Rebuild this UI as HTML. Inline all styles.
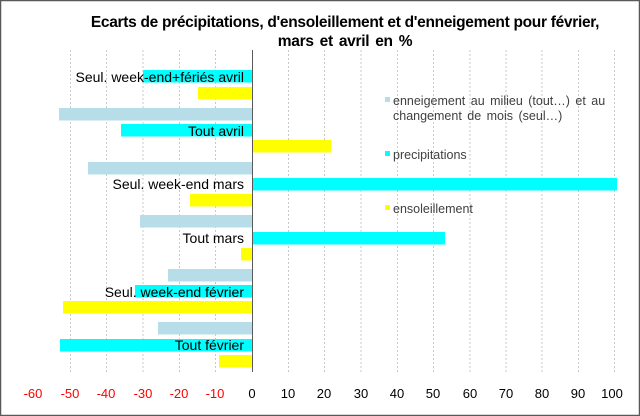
<!DOCTYPE html>
<html><head><meta charset="utf-8"><style>
body{margin:0;background:#fff}
svg{display:block;font-family:"Liberation Sans",sans-serif}
</style></head><body>
<svg width="640" height="416" xmlns="http://www.w3.org/2000/svg">
<rect x="0.5" y="0.5" width="639" height="415" fill="#fff" stroke="#595959" stroke-width="1.5"/>
<text x="345" y="27" text-anchor="middle" font-size="15.5" font-weight="bold" fill="#000" letter-spacing="-0.3">Ecarts de précipitations, d'ensoleillement et d'enneigement pour février,</text>
<text x="345" y="46" text-anchor="middle" font-size="15.5" font-weight="bold" fill="#000" letter-spacing="-0.3" word-spacing="2">mars et avril  en  %</text>
<g stroke="#c8c8c8" stroke-dasharray="2,2" stroke-width="1">
<line x1="70.5" y1="50" x2="70.5" y2="372"/><line x1="106.5" y1="50" x2="106.5" y2="372"/><line x1="143" y1="50" x2="143" y2="372"/><line x1="179.5" y1="50" x2="179.5" y2="372"/><line x1="215.5" y1="50" x2="215.5" y2="372"/>
<line x1="288.5" y1="50" x2="288.5" y2="372"/><line x1="324.5" y1="50" x2="324.5" y2="372"/><line x1="361" y1="50" x2="361" y2="372"/><line x1="397.5" y1="50" x2="397.5" y2="372"/><line x1="433.5" y1="50" x2="433.5" y2="372"/><line x1="470" y1="50" x2="470" y2="372"/><line x1="506" y1="50" x2="506" y2="372"/><line x1="542" y1="50" x2="542" y2="372"/><line x1="578.5" y1="50" x2="578.5" y2="372"/><line x1="614.5" y1="50" x2="614.5" y2="372"/>
</g>
<rect x="143" y="70" width="109" height="12.5" fill="#00ffff"/>
<rect x="198" y="87" width="54" height="12.5" fill="#ffff00"/>
<rect x="59" y="108" width="193" height="12.5" fill="#b7dde8"/>
<rect x="121" y="124" width="131" height="12.5" fill="#00ffff"/>
<rect x="252" y="140" width="79" height="12.5" fill="#ffff00"/>
<rect x="88" y="162" width="164" height="12.5" fill="#b7dde8"/>
<rect x="252" y="178" width="365" height="12.5" fill="#00ffff"/>
<rect x="190" y="194" width="62" height="12.5" fill="#ffff00"/>
<rect x="140" y="215" width="112" height="12.5" fill="#b7dde8"/>
<rect x="252" y="232" width="193" height="12.5" fill="#00ffff"/>
<rect x="241" y="248" width="11" height="12.5" fill="#ffff00"/>
<rect x="168" y="269" width="84" height="12.5" fill="#b7dde8"/>
<rect x="135" y="285" width="117" height="12.5" fill="#00ffff"/>
<rect x="63" y="301" width="189" height="12.5" fill="#ffff00"/>
<rect x="158" y="322" width="94" height="12.5" fill="#b7dde8"/>
<rect x="60" y="339" width="192" height="12.5" fill="#00ffff"/>
<rect x="219" y="355" width="33" height="12.5" fill="#ffff00"/>
<line x1="252.5" y1="50" x2="252.5" y2="372" stroke="#595959" stroke-width="1"/>
<g font-size="14" fill="#000" text-anchor="end">
<text x="244" y="82">Seul. week-end+fériés avril</text>
<text x="244" y="136">Tout avril</text>
<text x="244" y="189">Seul. week-end mars</text>
<text x="244" y="243">Tout mars</text>
<text x="244" y="297">Seul. week-end  février</text>
<text x="244" y="350">Tout février</text>
</g>
<g font-size="12.5" fill="#404040" word-spacing="2">
<rect x="385" y="97" width="5" height="5" fill="#b7dde8"/>
<text x="393" y="105">enneigement  au milieu  (tout…) et au</text>
<text x="393" y="120">changement  de mois  (seul…)</text>
<rect x="385" y="151" width="5" height="5" fill="#00ffff"/>
<text x="393" y="159">precipitations</text>
<rect x="385" y="205" width="5" height="5" fill="#ffff00"/>
<text x="393" y="213">ensoleillement</text>
</g>
<g font-size="13" text-anchor="middle">
<g fill="#ff0000"><text x="33" y="398">-60</text><text x="70" y="398">-50</text><text x="106" y="398">-40</text><text x="143" y="398">-30</text><text x="179" y="398">-20</text><text x="215" y="398">-10</text></g>
<g fill="#000"><text x="252" y="398">0</text><text x="288" y="398">10</text><text x="324" y="398">20</text><text x="361" y="398">30</text><text x="397" y="398">40</text><text x="433" y="398">50</text><text x="470" y="398">60</text><text x="506" y="398">70</text><text x="542" y="398">80</text><text x="578" y="398">90</text><text x="612" y="398">100</text></g>
</g>
</svg>
</body></html>
